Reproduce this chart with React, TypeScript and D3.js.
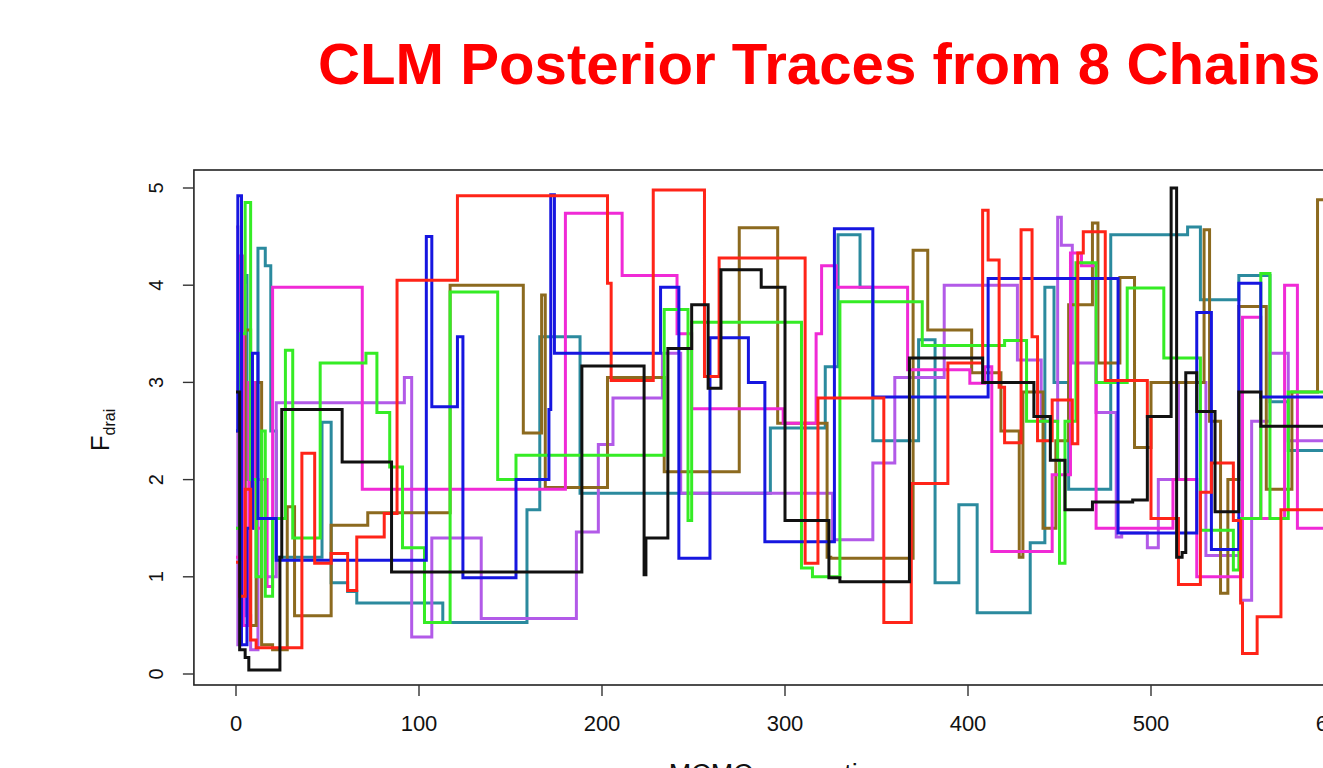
import React from "react";
import * as d3 from "d3";

const WIDTH = 1323;
const HEIGHT = 768;

const titleText = "CLM Posterior Traces from 8 Chains";
const xLabel = "MCMC generations";
const xTicks = [0, 100, 200, 300, 400, 500, 600];
const yTicks = [0, 1, 2, 3, 4, 5];

// Each chain: [iteration, value] change points; value holds until the next point.
const chainBlack: [number, number][] = [
  [0, 2.9], [2, 0.25], [5, 0.17], [7, 0.04], [24, 1.2], [25, 2.72], [58, 2.18], [85, 1.05],
  [189, 3.17], [223, 1.02], [224, 1.4], [236, 3.35], [249, 3.8], [258, 2.94], [265, 4.16],
  [287, 3.98], [300, 1.58], [324, 0.99], [330, 0.95], [368, 3.25], [408, 3.0], [436, 2.65],
  [445, 2.2], [453, 1.69], [468, 1.77], [490, 1.79], [498, 2.65], [511, 5.0], [514, 1.2],
  [517, 1.25], [519, 3.1], [525, 2.7], [535, 1.67], [548, 2.9], [560, 2.55], [600, 2.55],
];
const chainRed: [number, number][] = [
  [0, 1.15], [2, 0.8], [5, 1.9], [8, 0.35], [11, 0.27], [36, 2.27], [43, 1.14], [52, 1.24],
  [61, 0.86], [66, 1.41], [81, 1.65], [88, 4.05], [121, 4.92], [203, 4.02], [205, 3.02],
  [228, 4.98], [256, 3.06], [264, 4.28], [311, 1.14], [318, 2.84], [354, 0.53], [369, 1.96],
  [389, 3.2], [408, 4.77], [411, 4.26], [417, 2.95], [420, 2.38], [429, 4.57], [435, 3.47],
  [438, 2.4], [446, 2.82], [457, 2.37], [460, 4.33], [463, 4.55], [475, 3.02], [498, 2.65],
  [500, 1.6], [515, 0.92], [527, 1.87], [533, 2.17], [545, 1.58], [549, 0.73], [550, 0.21],
  [558, 0.59], [571, 1.69], [600, 1.69],
];
const chainBlue: [number, number][] = [
  [0, 2.5], [1, 4.92], [3, 0.3], [6, 1.5], [9, 3.3], [12, 1.6], [22, 1.17], [104, 4.5],
  [107, 2.75], [121, 3.47], [124, 0.99], [153, 2.0], [171, 2.72], [172, 4.93], [174, 3.3],
  [232, 3.98], [242, 1.19], [259, 3.46], [280, 3.0], [289, 1.36], [327, 4.58], [348, 2.85],
  [411, 4.07], [482, 1.45], [525, 3.72], [533, 1.28], [548, 4.02], [560, 2.85], [600, 2.85],
];
const chainGreen: [number, number][] = [
  [0, 1.5], [2, 3.5], [5, 4.85], [8, 2.0], [11, 1.0], [14, 2.5], [16, 0.8], [20, 1.6],
  [27, 3.33], [31, 1.4], [46, 3.2], [71, 3.3], [77, 2.69], [84, 2.13], [91, 1.3], [103, 0.53],
  [117, 3.93], [143, 2.0], [153, 2.25], [234, 3.75], [247, 1.58], [249, 3.62], [309, 1.09],
  [315, 1.0], [330, 3.83], [375, 3.38], [420, 3.43], [432, 2.6], [449, 2.2], [450, 1.14],
  [453, 2.6], [459, 4.23], [470, 3.0], [487, 3.97], [507, 3.25], [527, 1.48], [545, 1.07],
  [548, 1.6], [560, 4.12], [565, 1.6], [575, 2.9], [600, 2.9],
];
const chainTeal: [number, number][] = [
  [0, 1.5], [3, 4.1], [6, 2.0], [12, 4.38], [16, 4.2], [19, 2.5], [22, 1.2], [47, 2.59],
  [52, 0.94], [61, 0.85], [66, 0.73], [113, 0.53], [159, 1.69], [166, 3.47], [188, 1.86],
  [292, 2.53], [322, 3.16], [329, 4.52], [341, 3.98], [348, 2.4], [373, 3.44], [382, 0.94],
  [395, 1.74], [405, 0.63], [434, 1.35], [442, 3.98], [447, 3.0], [455, 1.9], [478, 4.52],
  [520, 4.6], [527, 3.85], [548, 4.1], [565, 2.8], [575, 2.3], [600, 2.3],
];
const chainMagenta: [number, number][] = [
  [0, 1.2], [2, 4.3], [4, 0.5], [7, 3.0], [10, 1.5], [14, 2.0], [17, 0.9], [20, 3.98],
  [69, 1.9], [180, 4.74], [211, 4.1], [241, 3.5], [249, 2.73], [299, 2.58], [317, 3.5],
  [320, 4.2], [328, 3.98], [367, 3.13], [401, 2.99], [409, 3.16], [413, 1.26], [446, 2.05],
  [456, 4.33], [462, 4.2], [470, 1.5], [505, 1.5], [512, 2.0], [525, 1.0], [550, 3.67],
  [560, 1.6], [573, 4.0], [580, 1.5], [600, 1.5],
];
const chainPurple: [number, number][] = [
  [0, 4.6], [1, 0.3], [3, 4.0], [5, 0.6], [8, 0.25], [12, 2.0], [16, 1.0], [22, 2.79],
  [92, 3.05], [96, 0.38], [107, 1.4], [134, 0.57], [186, 1.46], [198, 2.36], [206, 2.84],
  [233, 3.3], [243, 1.86], [326, 1.38], [348, 2.17], [360, 3.05], [387, 4.0], [427, 3.23],
  [440, 2.6], [449, 4.7], [451, 4.41], [457, 3.2], [470, 2.69], [481, 1.41], [484, 1.45],
  [498, 1.3], [504, 2.0], [515, 3.0], [530, 1.22], [549, 0.76], [555, 2.6], [565, 3.3],
  [575, 2.4], [600, 2.4],
];
const chainBrown: [number, number][] = [
  [0, 2.5], [3, 1.0], [5, 3.54], [8, 0.5], [11, 3.0], [14, 0.3], [20, 0.25], [28, 1.72],
  [32, 0.6], [52, 1.53], [72, 1.66], [117, 4.0], [157, 2.48], [167, 3.9], [169, 1.92],
  [203, 3.05], [234, 2.08], [275, 4.59], [296, 2.58], [323, 1.2], [325, 1.19], [370, 4.36],
  [378, 3.54], [402, 3.1], [418, 2.5], [428, 1.2], [430, 2.9], [441, 1.5], [448, 2.4],
  [455, 3.8], [468, 4.64], [471, 3.2], [483, 4.08], [491, 2.33], [500, 3.0], [529, 4.57],
  [532, 2.6], [538, 0.83], [542, 2.0], [548, 3.78], [563, 1.9], [577, 2.9], [591, 4.88],
  [600, 4.88],
];

const chains = [
  { name: "teal", color: "#2b8a9e", data: chainTeal },
  { name: "purple", color: "#b25ae8", data: chainPurple },
  { name: "brown", color: "#8c6a1f", data: chainBrown },
  { name: "magenta", color: "#f02ad6", data: chainMagenta },
  { name: "green", color: "#35ec25", data: chainGreen },
  { name: "blue", color: "#1616e0", data: chainBlue },
  { name: "red", color: "#ff2418", data: chainRed },
  { name: "black", color: "#111111", data: chainBlack },
];

const PLOT = { top: 170, bottom: 685 };

export default function App() {
  const x = d3.scaleLinear().domain([0, 500]).range([236, 1151]);
  const xMin = -23;
  const xMax = 624;
  const plotLeft = x(xMin);
  const plotRight = x(xMax);
  const y = d3.scaleLinear().domain([0, 5]).range([674, 188]);

  const line = d3
    .line<[number, number]>()
    .x((d) => x(d[0]))
    .y((d) => y(d[1]))
    .curve(d3.curveStepAfter);

  const font = "'Liberation Sans', Arial, Helvetica, sans-serif";

  return (
    <svg
      width={WIDTH}
      height={HEIGHT}
      style={{ position: "absolute", left: 0, top: 0, background: "#fff" }}
      fontFamily={font}
    >
      <rect x={0} y={0} width={WIDTH} height={HEIGHT} fill="#fff" />
      <defs>
        <clipPath id="plotClip">
          <rect x={plotLeft} y={PLOT.top} width={plotRight - plotLeft} height={PLOT.bottom - PLOT.top} />
        </clipPath>
      </defs>

      <text x={318} y={84} fill="#ff0000" fontSize={58.2} fontWeight="bold">
        {titleText}
      </text>

      <g clipPath="url(#plotClip)">
        {chains.map((c) => (
          <path
            key={c.name}
            d={line(c.data) || ""}
            fill="none"
            stroke={c.color}
            strokeWidth={3}
            strokeLinejoin="miter"
          />
        ))}
      </g>

      <rect
        x={plotLeft}
        y={PLOT.top}
        width={plotRight - plotLeft}
        height={PLOT.bottom - PLOT.top}
        fill="none"
        stroke="#222"
        strokeWidth={1.6}
      />

      {yTicks.map((t) => (
        <g key={"y" + t}>
          <line x1={plotLeft - 11} x2={plotLeft} y1={y(t)} y2={y(t)} stroke="#333" strokeWidth={1.4} />
          <text transform={`translate(163,${y(t)}) rotate(-90)`} textAnchor="middle" fontSize={20} fill="#111">
            {t}
          </text>
        </g>
      ))}

      {xTicks.map((t) => (
        <g key={"x" + t}>
          <line x1={x(t)} x2={x(t)} y1={PLOT.bottom} y2={PLOT.bottom + 11} stroke="#333" strokeWidth={1.4} />
          <text x={x(t)} y={731} textAnchor="middle" fontSize={22} fill="#111">
            {t}
          </text>
        </g>
      ))}

      <text x={785} y={783} textAnchor="middle" fontSize={27} fill="#111">
        {xLabel}
      </text>

      <text transform="translate(109,430) rotate(-90)" textAnchor="middle" fill="#111">
        <tspan fontSize={26}>F</tspan>
        <tspan fontSize={16} dy={6}>drai</tspan>
      </text>
    </svg>
  );
}
